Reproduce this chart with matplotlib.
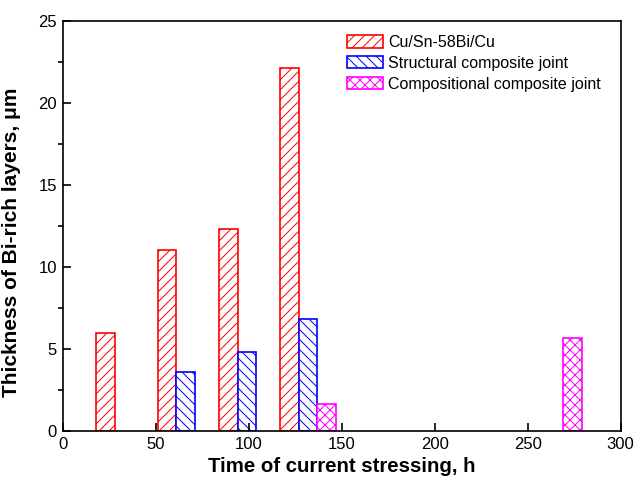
import matplotlib
matplotlib.use("Agg")
import matplotlib.pyplot as plt

# Data
cu_time = [23, 56, 89, 122]
cu_thick = [5.95, 11.0, 12.3, 22.1]

struct_time = [66, 99, 132]
struct_thick = [3.6, 4.8, 6.85]

comp_time = [142, 274]
comp_thick = [1.65, 5.65]

labels = ["Cu/Sn-58Bi/Cu", "Structural composite joint", "Compositional composite joint"]

plt.rcParams["font.family"] = ["Liberation Sans", "DejaVu Sans"]
plt.rcParams["hatch.linewidth"] = 0.6

dpi = 120
fig = plt.figure(figsize=(635 / dpi, 477 / dpi), dpi=dpi)
ax = fig.add_axes([0.0987, 0.0964, 0.8787, 0.8602])

bw = 10
ax.bar(cu_time, cu_thick, width=bw, facecolor="white", edgecolor="red",
       hatch="////", linewidth=1.0, label=labels[0])
ax.bar(struct_time, struct_thick, width=bw, facecolor="white", edgecolor="blue",
       hatch="\\\\\\\\", linewidth=1.0, label=labels[1])
ax.bar(comp_time, comp_thick, width=bw, facecolor="white", edgecolor="magenta",
       hatch="xxxx", linewidth=1.0, label=labels[2])

ax.set_xlim(0, 300)
ax.set_ylim(0, 25)
ax.set_xticks(range(0, 301, 50))
ax.set_yticks(range(0, 26, 5))
ax.set_yticks([2.5, 7.5, 12.5, 17.5, 22.5], minor=True)

ax.tick_params(direction="in", top=False, right=False, labelsize=10, width=1.0)
ax.tick_params(axis="both", which="major", length=4.8)
ax.tick_params(axis="y", which="minor", length=3, width=1.0)
for sp in ax.spines.values():
    sp.set_linewidth(1.0)

ax.set_xlabel("Time of current stressing, h", fontsize=12.2, fontweight="bold", labelpad=3)
ax.set_ylabel("Thickness of Bi-rich layers, μm", fontsize=12.5, fontweight="bold")
ax.yaxis.set_label_coords(-0.074, 0.46)

ax.legend(loc="upper left", bbox_to_anchor=(0.509, 0.965), frameon=False,
          fontsize=9.6, borderpad=0, borderaxespad=0, handlelength=2.25,
          handleheight=0.8, handletextpad=0.35, labelspacing=0.36)

fig.savefig("out.png", dpi=dpi)
